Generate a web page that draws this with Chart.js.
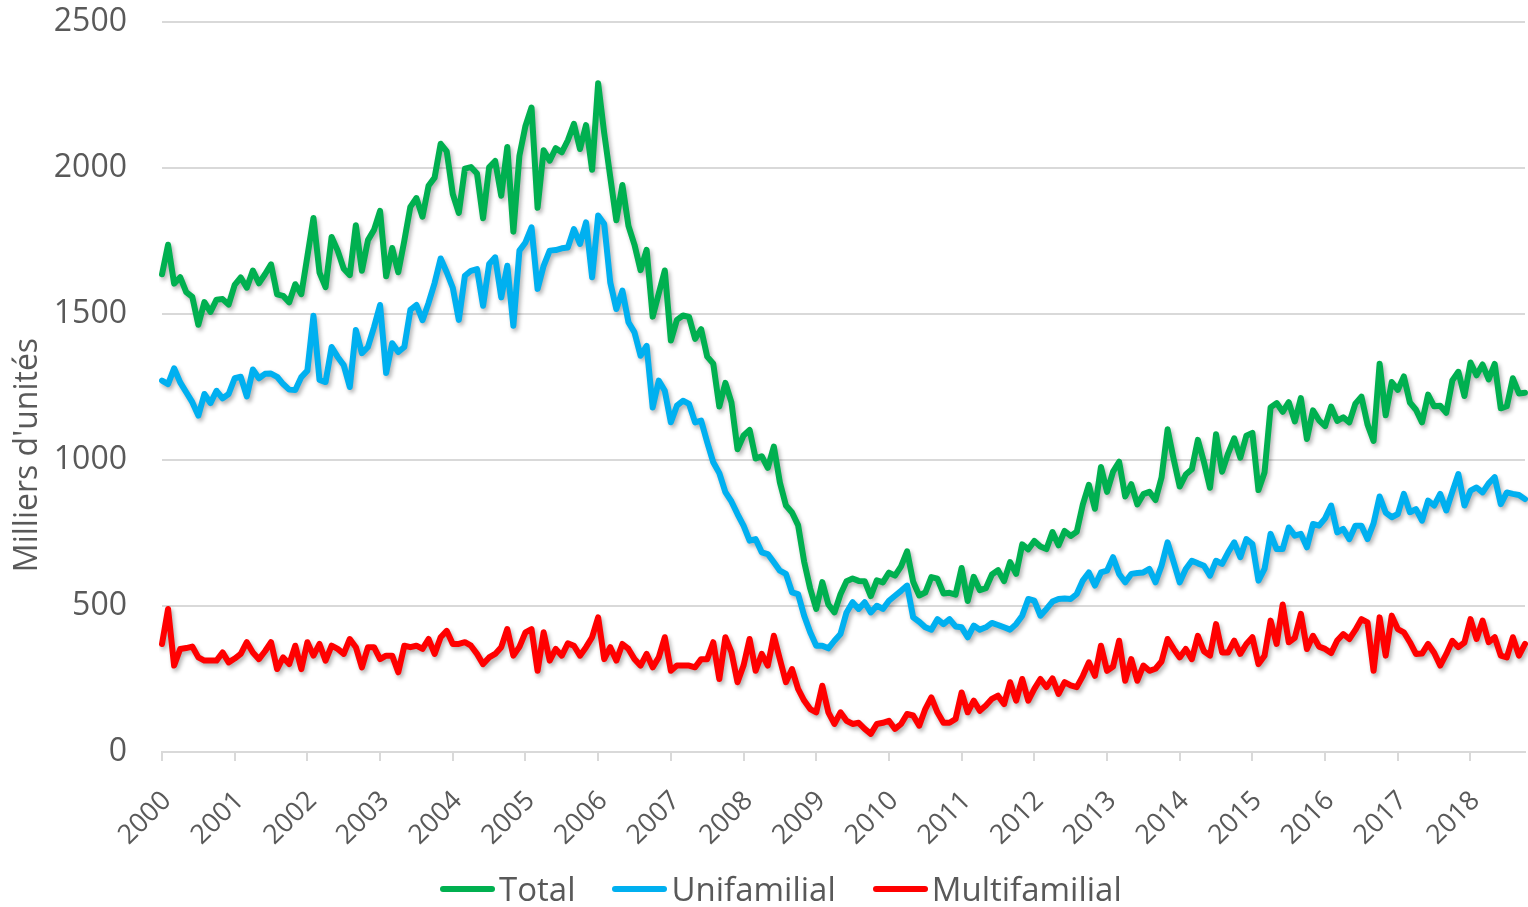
<!DOCTYPE html>
<html lang="fr">
<head>
    <meta charset="UTF-8">
    <title>Mises en chantier</title>
    <script src="https://cdn.jsdelivr.net/npm/chart.js"></script>
    <style>
        html, body { margin: 0; padding: 0; background: #fff; }
        .wrap { position: relative; width: 1528px; height: 907px; overflow: hidden; }
        #chart { display: block; }
        .legend {
            position: absolute; left: 440px; top: 870px;
            display: flex; align-items: center;
            font-family: "Open Sans", sans-serif; font-size: 33px; line-height: 38px; color: #595959;
        }
        .legend .item { display: flex; align-items: center; margin-right: 37px; }
        .legend i { display: inline-block; width: 55px; height: 6px; border-radius: 3px; margin-right: 4px; }
    </style>
</head>
<body>
<div class="wrap">
    <canvas id="chart" width="1528" height="907"></canvas>
    <div class="legend">
        <span class="item"><i style="background:#00B050"></i>Total</span>
        <span class="item"><i style="background:#00B0F0"></i>Unifamilial</span>
        <span class="item"><i style="background:#FF0000"></i>Multifamilial</span>
    </div>
</div>

<script>
    // Mises en chantier mensuelles (milliers d'unités), janvier 2000 - octobre 2018
    const startYear = 2000;

    const total = [
        1636, 1737, 1604, 1626, 1575, 1559, 1463, 1541, 1507, 1549, 1551, 1532,
        1600, 1625, 1590, 1649, 1605, 1636, 1670, 1567, 1562, 1540, 1602, 1568,
        1698, 1829, 1642, 1592, 1764, 1717, 1655, 1633, 1804, 1648, 1753, 1788,
        1853, 1629, 1726, 1643, 1751, 1867, 1897, 1833, 1939, 1967, 2083, 2057,
        1911, 1846, 1998, 2003, 1981, 1828, 2002, 2024, 1905, 2072, 1782, 2042,
        2144, 2207, 1864, 2061, 2025, 2068, 2054, 2095, 2151, 2065, 2147, 1994,
        2290, 2119, 1969, 1821, 1942, 1802, 1737, 1650, 1720, 1491, 1570, 1649,
        1409, 1480, 1495, 1490, 1415, 1448, 1354, 1330, 1183, 1264, 1197, 1037,
        1084, 1103, 1005, 1013, 973, 1046, 923, 844, 820, 777, 652, 560,
        490, 582, 505, 478, 540, 585, 594, 586, 585, 534, 588, 581,
        614, 604, 636, 687, 583, 536, 546, 599, 594, 543, 545, 539,
        630, 517, 600, 554, 561, 608, 623, 585, 650, 610, 711, 694,
        723, 704, 695, 753, 708, 757, 740, 754, 847, 915, 833, 976,
        891, 960, 994, 875, 917, 848, 883, 891, 863, 940, 1105, 1003,
        909, 950, 968, 1069, 993, 905, 1088, 960, 1023, 1074, 1008, 1083,
        1093, 897, 957, 1180, 1195, 1165, 1198, 1132, 1212, 1072, 1170, 1136,
        1116, 1183, 1134, 1146, 1129, 1193, 1217, 1122, 1065, 1330, 1153, 1267,
        1240, 1286, 1197, 1172, 1129, 1224, 1184, 1186, 1162, 1272, 1302, 1219,
        1334, 1290, 1327, 1276, 1329, 1177, 1184, 1280, 1228, 1230
    ];

    const unifamilial = [
        1272, 1260, 1314, 1266, 1232, 1198, 1152, 1226, 1195, 1237, 1211, 1226,
        1280, 1285, 1218, 1310, 1280, 1295, 1296, 1285, 1260, 1241, 1240, 1284,
        1306, 1494, 1274, 1267, 1387, 1353, 1325, 1250, 1445, 1366, 1387, 1455,
        1531, 1298, 1400, 1370, 1387, 1514, 1531, 1479, 1538, 1606, 1690, 1643,
        1590, 1480, 1631, 1648, 1654, 1528, 1671, 1694, 1557, 1665, 1460, 1717,
        1745, 1797, 1586, 1665, 1717, 1719, 1725, 1728, 1791, 1740, 1814, 1626,
        1837, 1808, 1608, 1517, 1580, 1472, 1437, 1357, 1391, 1180, 1272, 1237,
        1129, 1186, 1203, 1192, 1129, 1135, 1061, 992, 955, 890, 858, 815,
        775, 724, 729, 684, 678, 650, 621, 610, 547, 541, 467, 410,
        364, 364, 355, 381, 404, 478, 513, 490, 513, 478, 501, 490,
        518, 535, 552, 570, 461, 446, 427, 419, 455, 438, 455, 430,
        427, 393, 433, 419, 427, 442, 435, 427, 419, 438, 467, 524,
        518, 467, 490, 515, 524, 526, 524, 541, 587, 615, 570, 615,
        621, 667, 610, 581, 610, 613, 615, 627, 581, 638, 718, 650,
        581, 627, 655, 646, 638, 604, 655, 644, 684, 718, 667, 729,
        712, 587, 627, 747, 695, 695, 769, 741, 747, 701, 781, 775,
        800, 844, 752, 764, 729, 775, 775, 729, 783, 875, 820, 804,
        815, 884, 821, 832, 792, 861, 844, 884, 827, 891, 952, 844,
        895, 906, 889, 920, 941, 849, 889, 884, 880, 866
    ];

    const multifamilial = [
        370, 490, 296, 353, 356, 361, 324, 313, 313, 313, 341, 307,
        320, 336, 376, 341, 318, 345, 376, 284, 324, 301, 364, 284,
        376, 330, 370, 313, 364, 353, 336, 387, 359, 290, 359, 359,
        318, 330, 330, 273, 364, 359, 364, 353, 387, 336, 393, 415,
        370, 370, 376, 364, 336, 301, 324, 336, 359, 421, 330, 360,
        410, 421, 278, 410, 313, 353, 330, 372, 364, 330, 359, 393,
        461, 318, 359, 313, 370, 353, 318, 296, 336, 290, 324, 393,
        278, 296, 296, 296, 290, 318, 318, 376, 250, 393, 342, 239,
        296, 387, 278, 336, 296, 398, 318, 239, 284, 216, 176, 147,
        136, 227, 136, 96, 136, 107, 96, 100, 79, 62, 96, 100,
        107, 79, 96, 130, 125, 90, 147, 187, 136, 100, 100, 113,
        204, 136, 176, 141, 159, 182, 193, 164, 239, 176, 250, 176,
        216, 250, 222, 252, 199, 239, 228, 222, 260, 307, 261, 364,
        278, 293, 381, 244, 318, 244, 296, 278, 285, 310, 387, 353,
        324, 353, 318, 398, 345, 330, 438, 341, 341, 381, 336, 370,
        393, 301, 330, 450, 370, 505, 376, 391, 473, 353, 398, 361,
        353, 339, 382, 404, 387, 418, 455, 444, 278, 461, 330, 467,
        421, 410, 376, 336, 337, 370, 340, 296, 335, 381, 359, 375,
        455, 387, 450, 376, 393, 330, 324, 393, 330, 370
    ];

    const yTicks = [0, 500, 1000, 1500, 2000, 2500];

    // une étiquette par mois : "2000-01", "2000-02", ...
    const labels = total.map((v, i) =>
        (startYear + Math.floor(i / 12)) + '-' + String(i % 12 + 1).padStart(2, '0'));

    Chart.defaults.font.family = '"Open Sans", sans-serif';
    Chart.defaults.color = '#595959';

    // ombre légère sous les courbes
    const lineShadow = {
        id: 'lineShadow',
        beforeDatasetDraw(chart) {
            const c = chart.ctx;
            c.save();
            c.shadowColor = 'rgba(0, 0, 0, 0.3)';
            c.shadowBlur = 4;
            c.shadowOffsetX = 2;
            c.shadowOffsetY = 3;
        },
        afterDatasetDraw(chart) {
            chart.ctx.restore();
        }
    };

    // titre de l'axe vertical
    const yTitle = {
        id: 'yTitle',
        afterDraw(chart) {
            const c = chart.ctx;
            c.save();
            c.translate(37, 455);
            c.rotate(-Math.PI / 2);
            c.font = '32px "Open Sans"';
            c.fillStyle = '#595959';
            c.textAlign = 'center';
            c.textBaseline = 'alphabetic';
            c.fillText("Milliers d'unités", 0, 0);
            c.restore();
        }
    };

    function serie(label, data, color, order) {
        return {
            label: label,
            data: data,
            borderColor: color,
            backgroundColor: color,
            borderWidth: 6,
            pointRadius: 0,
            tension: 0,
            borderJoinStyle: 'round',
            borderCapStyle: 'round',
            order: order
        };
    }

    function noPadding(scale) {
        scale.paddingLeft = 0;
        scale.paddingRight = 0;
        scale.paddingTop = 0;
        scale.paddingBottom = 0;
    }

    new Chart(document.getElementById('chart'), {
        type: 'line',
        data: {
            labels: labels,
            datasets: [
                serie('Total', total, '#00B050', 3),
                serie('Unifamilial', unifamilial, '#00B0F0', 2),
                serie('Multifamilial', multifamilial, '#FF0000', 1)
            ]
        },
        options: {
            responsive: false,
            animation: false,
            layout: { padding: { left: 34, right: 3, top: 22, bottom: 0 } },
            plugins: {
                legend: { display: false },
                tooltip: { enabled: false }
            },
            scales: {
                x: {
                    grid: {
                        drawOnChartArea: false,
                        drawTicks: true,
                        tickLength: 9,
                        lineWidth: 2,
                        color: c => (c.index % 12 === 0 ? '#d9d9d9' : 'rgba(0,0,0,0)')
                    },
                    border: { color: '#d9d9d9', width: 2 },
                    ticks: {
                        autoSkip: false,
                        minRotation: 45,
                        maxRotation: 45,
                        padding: 24,
                        labelOffset: 5,
                        font: { size: 27 },
                        callback: (v, i) => (i % 12 === 0 ? String(startYear + i / 12) : '')
                    },
                    afterFit(scale) {
                        noPadding(scale);
                        scale.height = 907 - 752;
                    }
                },
                y: {
                    min: yTicks[0],
                    max: yTicks[yTicks.length - 1],
                    ticks: {
                        stepSize: 500,
                        padding: 35,
                        font: { size: 32 },
                        callback: v => String(v)
                    },
                    grid: { color: '#d9d9d9', lineWidth: 2, drawTicks: false },
                    border: { display: false },
                    afterFit(scale) {
                        noPadding(scale);
                        scale.width = 128;
                    }
                }
            }
        },
        plugins: [lineShadow, yTitle]
    });
</script>
</body>
</html>
